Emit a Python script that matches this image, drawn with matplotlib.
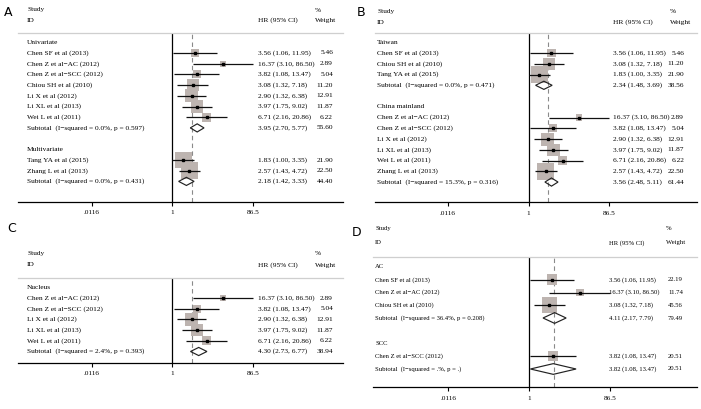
import numpy as np
import matplotlib
matplotlib.use("Agg")
import matplotlib.pyplot as plt
from matplotlib.patches import Rectangle, Polygon

# ---------------- data ----------------
study_names = ["Chen SF et al (2013)", "Chen Z et al\u2212AC (2012)", "Chen Z et al\u2212SCC (2012)",
               "Chiou SH et al (2010)", "Li X et al (2012)", "Li XL et al (2013)",
               "Wei L et al (2011)", "Tang YA et al (2015)", "Zhang L et al (2013)"]
study_hr = [3.56, 16.37, 3.82, 3.08, 2.90, 3.97, 6.71, 1.83, 2.57]
study_lo = [1.06, 3.10, 1.08, 1.32, 1.32, 1.75, 2.16, 1.00, 1.43]
study_hi = [11.95, 86.50, 13.47, 7.18, 6.38, 9.02, 20.86, 3.35, 4.72]

tick_values = [0.0116, 1, 86.5]
tick_labels = [".0116", "1", "86.5"]

# Panel A
a_groups = ["Univariate", "Multivariate"]
a_members = [[0, 1, 2, 3, 4, 5, 6], [7, 8]]
a_weights = [[5.46, 2.89, 5.04, 11.20, 12.91, 11.87, 6.22], [21.90, 22.50]]
a_sub_hr = [3.95, 2.18]
a_sub_lo = [2.70, 1.42]
a_sub_hi = [5.77, 3.33]
a_sub_w = [55.60, 44.40]
a_sub_i2 = ["0.0%", "0.0%"]
a_sub_p = ["0.597", "0.431"]
a_overall = 3.01

# Panel B
b_groups = ["Taiwan", "China mainland"]
b_members = [[0, 3, 7], [1, 2, 4, 5, 6, 8]]
b_weights = [[5.46, 11.20, 21.90], [2.89, 5.04, 12.91, 11.87, 6.22, 22.50]]
b_sub_hr = [2.34, 3.56]
b_sub_lo = [1.48, 2.48]
b_sub_hi = [3.69, 5.11]
b_sub_w = [38.56, 61.44]
b_sub_i2 = ["0.0%", "15.3%"]
b_sub_p = ["0.471", "0.316"]
b_overall = 3.01

# Panel C
c_groups = ["Nucleus"]
c_members = [[1, 2, 4, 5, 6]]
c_weights = [[2.89, 5.04, 12.91, 11.87, 6.22]]
c_sub_hr = [4.30]
c_sub_lo = [2.73]
c_sub_hi = [6.77]
c_sub_w = [38.94]
c_sub_i2 = ["2.4%"]
c_sub_p = ["0.393"]
c_overall = 3.05

# Panel D
d_groups = ["AC", "SCC"]
d_members = [[0, 1, 3], [2]]
d_weights = [[22.19, 11.74, 45.56], [20.51]]
d_sub_hr = [4.11, 3.82]
d_sub_lo = [2.17, 1.08]
d_sub_hi = [7.79, 13.47]
d_sub_w = [79.49, 20.51]
d_sub_i2 = ["36.4%", ".%"]
d_sub_p = ["0.208", "."]
d_overall = 4.05

# ---------------- layout ----------------
W, H = 701, 409
fig = plt.figure(figsize=(W / 100, H / 100), dpi=100)
SERIF = "Liberation Serif"
BOXC = "#bdb4b0"


def draw_panel(letter, groups, members, weights, sub_hr, sub_lo, sub_hi, sub_w, sub_i2, sub_p,
               overall, L):
    x0, x1, ysep, yax = L["x0"], L["x1"], L["ysep"], L["yax"]
    null, sc, row0, dy = L["null"], L["scale"], L["row0"], L["dy"]
    fs = L["fs"]
    ax = fig.add_axes([x0 / W, 1 - yax / H, (x1 - x0) / W, (yax - ysep) / H])
    ax.set_autoscale_on(False)
    ax.set_xlim((x0 - null) / sc, (x1 - null) / sc)
    ax.set_ylim((yax - row0) / dy, (ysep - row0) / dy)
    for s in ["left", "right"]:
        ax.spines[s].set_visible(False)
    ax.spines["top"].set_color("#cfcfcf")
    ax.spines["top"].set_linewidth(0.9)
    ax.spines["bottom"].set_linewidth(0.9)
    ax.set_yticks([])
    ax.set_xticks(np.log(tick_values))
    ax.set_xticklabels(tick_labels, fontsize=5.2, family=SERIF)
    ax.tick_params(axis="x", direction="out", length=3, width=0.8, pad=3.2)
    ax.patch.set_alpha(0)

    px = lambda p: (p - null) / sc
    py = lambda p: (p - row0) / dy

    # header
    fig.text(L["lab"][0] / W, 1 - L["lab"][1] / H, letter, fontsize=9, family="DejaVu Sans",
             ha="center", va="center")
    tk = dict(fontsize=fs, family=SERIF, va="center", clip_on=False)
    ax.text(px(L["sx"]), py(L["h1"]), "Study", ha="left", **tk)
    ax.text(px(L["sx"]), py(L["h2"]), "ID", ha="left", **tk)
    ax.text(px(L["hx"]), py(L["h2"]), "HR (95% CI)", ha="left", **tk)
    ax.text(px(L["px"]), py(L["h1"]), "%", ha="left", **tk)
    ax.text(px(L["px"]), py(L["h2"]), "Weight", ha="left", **tk)

    ax.axvline(0, color="black", lw=0.9, zorder=1)
    ax.axvline(np.log(overall), color="#8a8a8a", lw=0.8, ls=(0, (4, 3)), zorder=1.5)

    k = L["k"]
    r = 0
    for g in range(len(groups)):
        ax.text(px(L["sx"]), r, groups[g], ha="left", **tk)
        r += 1
        for j, idx in enumerate(members[g]):
            hr, lo, hi, w = study_hr[idx], study_lo[idx], study_hi[idx], weights[g][j]
            side = k * np.sqrt(w)
            bw, bh = side / sc, side / dy
            ax.add_patch(Rectangle((np.log(hr) - bw / 2, r - bh / 2), bw, bh,
                                   facecolor=BOXC, edgecolor="none", zorder=2))
            ax.plot([np.log(lo), np.log(hi)], [r, r], color="#111111", lw=0.9, zorder=3,
                    solid_capstyle="butt")
            ax.plot([np.log(hr)], [r], "s", ms=1.7, color="black", zorder=4)
            ax.text(px(L["sx"]), r, study_names[idx], ha="left", **tk)
            ax.text(px(L["hx"]), r, f"{hr:.2f} ({lo:.2f}, {hi:.2f})", ha="left", **tk)
            ax.text(px(L["wr"]), r, f"{w:.2f}", ha="right", **tk)
            r += 1
        hd = L["dh"]
        poly = [(np.log(sub_lo[g]), r), (np.log(sub_hr[g]), r - hd),
                (np.log(sub_hi[g]), r), (np.log(sub_hr[g]), r + hd)]
        ax.add_patch(Polygon(poly, closed=True, facecolor="none", edgecolor="#222222",
                             lw=0.85, zorder=3))
        ax.text(px(L["sx"]), r, f"Subtotal  (I\u2212squared = {sub_i2[g]}, p = {sub_p[g]})",
                ha="left", **tk)
        ax.text(px(L["hx"]), r, f"{sub_hr[g]:.2f} ({sub_lo[g]:.2f}, {sub_hi[g]:.2f})",
                ha="left", **tk)
        ax.text(px(L["wr"]), r, f"{sub_w[g]:.2f}", ha="right", **tk)
        r += 2


LA = dict(x0=18, x1=343, ysep=33.3, yax=201.5, null=172.3, scale=18.1, row0=42.3, dy=10.7,
          fs=5.3, lab=(8, 12), sx=27, hx=258, px=315, wr=333, h1=10, h2=20.5, k=3.6, dh=0.38)
LB = dict(x0=375, x1=697, ysep=33.5, yax=202, null=528.5, scale=18.1, row0=42.3, dy=10.75,
          fs=5.3, lab=(361, 13), sx=377, hx=613, px=670, wr=684, h1=11.5, h2=22.5, k=3.6, dh=0.38)
LC = dict(x0=18, x1=343, ysep=278.3, yax=362.7, null=172.3, scale=18.1, row0=287.3, dy=10.7,
          fs=5.3, lab=(12, 228), sx=27, hx=258, px=315, wr=333, h1=253.3, h2=265, k=3.6, dh=0.38)
LD = dict(x0=373, x1=697, ysep=257, yax=387, null=529, scale=18.1, row0=267, dy=12.75,
          fs=4.8, lab=(357, 233), sx=375, hx=609, px=666, wr=683, h1=229, h2=243, k=2.3, dh=0.42)

draw_panel("A", a_groups, a_members, a_weights, a_sub_hr, a_sub_lo, a_sub_hi, a_sub_w,
           a_sub_i2, a_sub_p, a_overall, LA)
draw_panel("B", b_groups, b_members, b_weights, b_sub_hr, b_sub_lo, b_sub_hi, b_sub_w,
           b_sub_i2, b_sub_p, b_overall, LB)
draw_panel("C", c_groups, c_members, c_weights, c_sub_hr, c_sub_lo, c_sub_hi, c_sub_w,
           c_sub_i2, c_sub_p, c_overall, LC)
draw_panel("D", d_groups, d_members, d_weights, d_sub_hr, d_sub_lo, d_sub_hi, d_sub_w,
           d_sub_i2, d_sub_p, d_overall, LD)

fig.savefig("out.png", dpi=100, facecolor="white")
